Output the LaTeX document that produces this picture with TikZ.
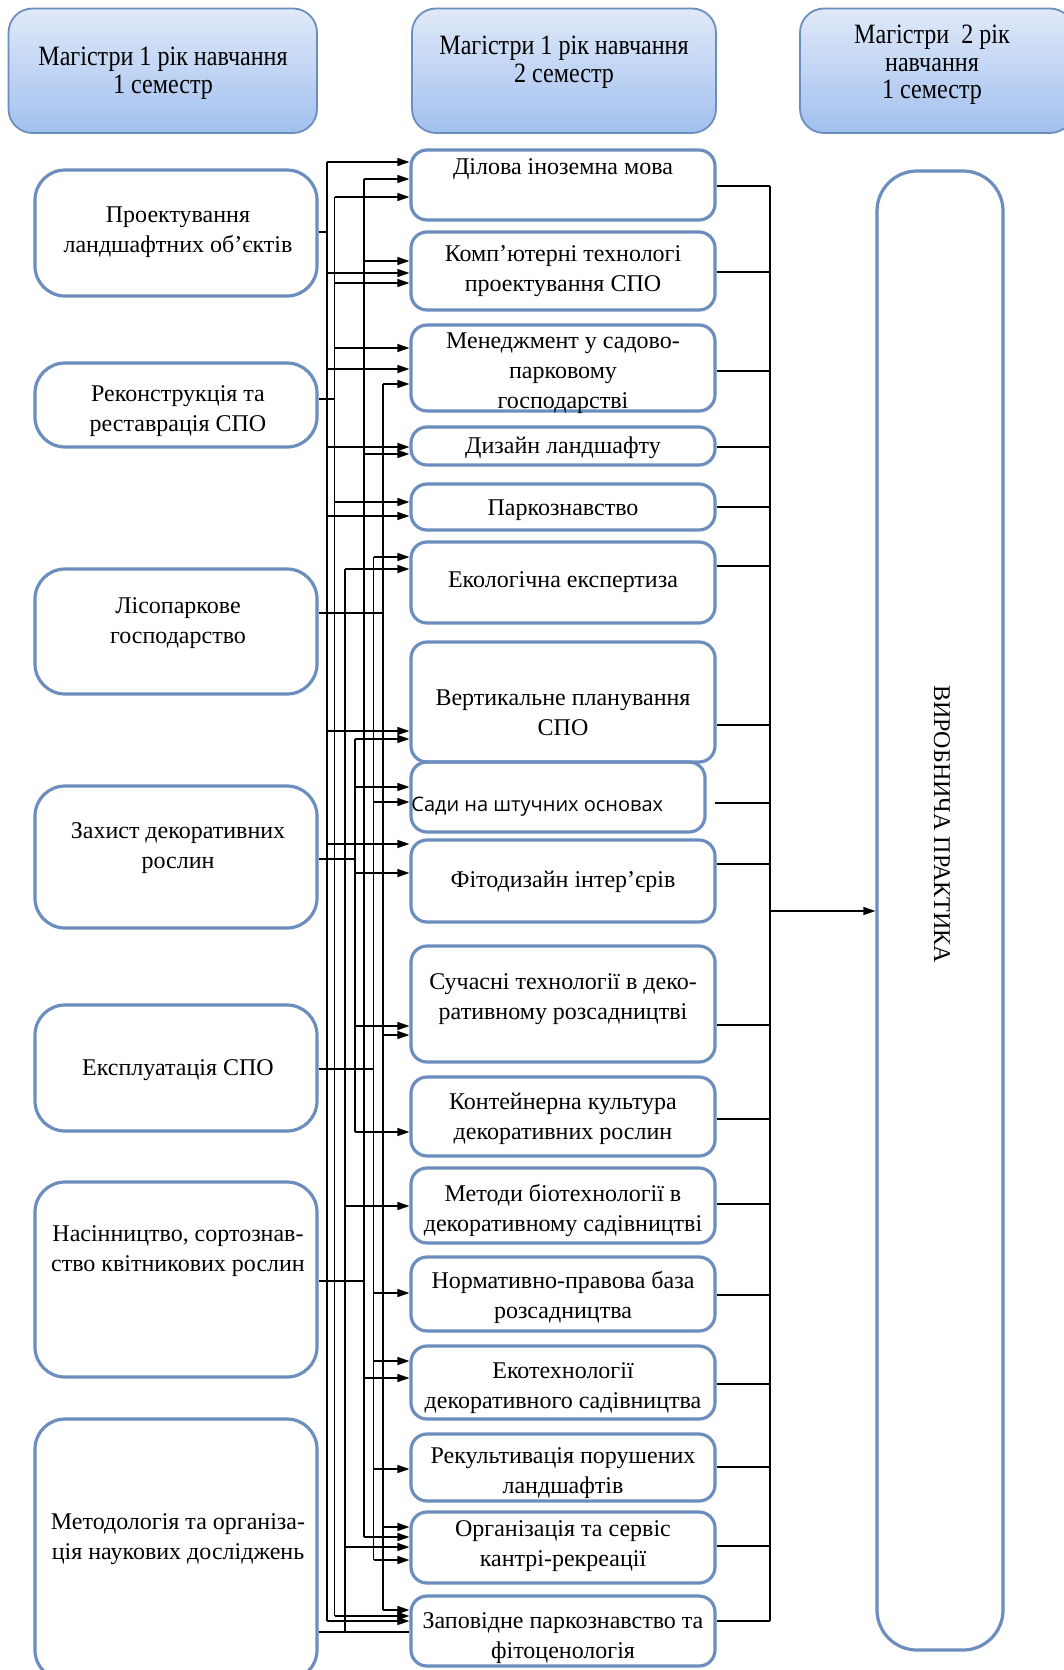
\documentclass[tikz,border=0pt]{standalone}
\usepackage{fontspec}
\setmainfont{Liberation Serif}
\newfontfamily\hdrfont[FakeStretch=0.86]{Liberation Serif}
\newfontfamily\sansfnt{Open Sans}
\usetikzlibrary{arrows.meta,fit}
\definecolor{bx}{RGB}{108,142,191}
\definecolor{hdtop}{RGB}{224,233,249}
\definecolor{hdbot}{RGB}{162,192,238}
\newcommand\feedto[3]{\draw[conn,tip] (#1 |- 0,#3) -- (#2.west |- 0,#3);}
\newcommand\outfrom[2]{\draw[conn] (#1.east |- 0,#2) -- (rb |- 0,#2);}
\begin{document}
\begin{tikzpicture}[x=0.5pt,y=-0.5pt,
  lbox/.style={draw=bx, line width=1.6pt, rounded corners=15pt, inner sep=0pt},
  mbox/.style={draw=bx, line width=1.6pt, rounded corners=8pt, inner sep=0pt},
  pbox/.style={draw=bx, line width=1.6pt, rounded corners=20pt, inner sep=0pt},
  hbox/.style={draw=bx, line width=0.9pt, rounded corners=12pt, inner sep=0pt, top color=hdtop, bottom color=hdbot},
  txt/.style={font=\fontsize{12pt}{15pt}\selectfont, align=center, inner sep=0pt, yshift=-1.5pt},
  htxt/.style={font=\hdrfont\fontsize{14pt}{13.8pt}\selectfont, align=center, inner sep=0pt, yshift=-1.5pt},
  conn/.style={line width=0.65pt, black},
  tip/.style={-{Triangle[length=6pt,width=4pt]}}
]
\useasboundingbox (0,0) rectangle (1064,1670);
\clip (0,0) rectangle (1064,1670);

% headers
\node[hbox, fit={(8.5,8.5) (317,133)}] (H1) {};
\node[hbox, fit={(412,8.5) (716,133)}] (H2) {};
\node[hbox, fit={(800,8.5) (1074,133)}] (H3) {};
\node[htxt] (H1t) at (163,70) {Магістри 1 рік навчання\\1 семестр};
\node[htxt] (H2t) at (564,59) {Магістри 1 рік навчання\\2 семестр};
\node[htxt] (H3t) at (932,62) {Магістри\ \ 2 рік\\навчання\\1 семестр};

% left column
\node[lbox, fit={(35,170) (317,296)}] (L1) {};
\node[lbox, fit={(35,363) (317,447)}] (L2) {};
\node[lbox, fit={(35,569) (317,694)}] (L3) {};
\node[lbox, fit={(35,786) (317,928)}] (L4) {};
\node[lbox, fit={(35,1005) (317,1131)}] (L5) {};
\node[lbox, fit={(35,1182) (317,1377)}] (L6) {};
\node[lbox, fit={(35,1419) (317,1680)}] (L7) {};
\node[txt] (L1t) at (178,229.5) {Проектування\\ландшафтних об’єктів};
\node[txt] (L2t) at (178,408.5) {Реконструкція та\\реставрація СПО};
\node[txt] (L3t) at (178,620) {Лісопаркове\\господарство};
\node[txt] (L4t) at (178,845) {Захист декоративних\\рослин};
\node[txt] (L5t) at (178,1067) {Експлуатація СПО};
\node[txt] (L6t) at (178,1248) {Насінництво, сортознав-\\ство квітникових рослин};
\node[txt] (L7t) at (178,1536) {Методологія та організа-\\ція наукових досліджень};

% middle column
\node[mbox, fit={(411,150) (715,220)}] (M1) {};
\node[mbox, fit={(411,232) (715,310)}] (M2) {};
\node[mbox, fit={(411,325) (715,411)}] (M3) {};
\node[mbox, fit={(411,427) (715,465)}] (M4) {};
\node[mbox, fit={(411,484) (715,530)}] (M5) {};
\node[mbox, fit={(411,542) (715,623)}] (M6) {};
\node[mbox, fit={(411,642) (715,762)}] (M7) {};
\node[mbox, fit={(411,762) (705,832)}] (M8) {};
\node[mbox, fit={(411,840) (715,922)}] (M9) {};
\node[mbox, fit={(411,946) (715,1062)}] (M10) {};
\node[mbox, fit={(411,1077) (715,1156)}] (M11) {};
\node[mbox, fit={(411,1168) (715,1243)}] (M12) {};
\node[mbox, fit={(411,1257) (715,1331)}] (M13) {};
\node[mbox, fit={(411,1346) (715,1419)}] (M14) {};
\node[mbox, fit={(411,1434) (715,1501)}] (M15) {};
\node[mbox, fit={(411,1512) (715,1583)}] (M16) {};
\node[mbox, fit={(411,1596) (715,1666)}] (M17) {};
\node[txt] (M1t) at (563,166) {Ділова іноземна мова};
\node[txt] (M2t) at (563,268) {Комп’ютерні технологі\\проектування СПО};
\node[txt] (M3t) at (563,370.5) {Менеджмент у садово-\\парковому\\господарстві};
\node[txt] (M4t) at (563,445) {Дизайн ландшафту};
\node[txt] (M5t) at (563,507) {Паркознавство};
\node[txt] (M6t) at (563,579) {Екологічна експертиза};
\node[txt] (M7t) at (563,709.5) {Вертикальне планування\\СПО};
\node[font=\sansfnt\fontsize{10pt}{12pt}\selectfont, inner sep=0pt, anchor=west] (M8t) at (411,807) {Сади на штучних основах};
\node[txt] (M9t) at (563,879) {Фітодизайн інтер’єрів};
\node[txt] (M10t) at (563,996) {Сучасні технології в деко-\\ративному розсадництві};
\node[txt] (M11t) at (563,1115.5) {Контейнерна культура\\декоративних рослин};
\node[txt] (M12t) at (563,1207) {Методи біотехнології в\\декоративному садівництві};
\node[txt] (M13t) at (563,1294.5) {Нормативно-правова база\\розсадництва};
\node[txt] (M14t) at (563,1385) {Екотехнології\\декоративного садівництва};
\node[txt] (M15t) at (563,1470.5) {Рекультивація порушених\\ландшафтів};
\node[txt] (M16t) at (563,1543.5) {Організація та сервіс\\кантрі-рекреації};
\node[txt] (M17t) at (563,1635.5) {Заповідне паркознавство та\\фітоценологія};

% practice box
\node[pbox, fit={(877,171) (1003,1650)}] (P) {};
\node[txt, rotate=-90, yshift=0pt] (Pt) at (942,821) {ВИРОБНИЧА ПРАКТИКА};

% bus coordinates
\coordinate (bA) at (327,0);
\coordinate (bB) at (334.5,0);
\coordinate (bC) at (345,0);
\coordinate (bE) at (355,0);
\coordinate (bD) at (364,0);
\coordinate (bF) at (373.5,0);
\coordinate (bG) at (383,0);
\coordinate (rb) at (770,0);

% bus A (from L1)
\draw[conn] (L1.east |- 0,232) -- (bA |- 0,232);
\draw[conn] (bA |- 0,162) -- (bA |- 0,1621);
\feedto{bA}{M1}{162}
\feedto{bA}{M2}{273}
\feedto{bA}{M3}{369}
\feedto{bA}{M4}{447}
\feedto{bA}{M5}{516}
\feedto{bA}{M7}{731}
\feedto{bA}{M9}{844}
\feedto{bA}{M17}{1621}

% bus B (from L2)
\draw[conn] (L2.east |- 0,399) -- (bB |- 0,399);
\draw[conn] (bB |- 0,197) -- (bB |- 0,1616);
\feedto{bB}{M1}{197}
\feedto{bB}{M2}{283}
\feedto{bB}{M3}{348}
\feedto{bB}{M5}{502}
\feedto{bB}{M17}{1616}

% bus C (from L7)
\draw[conn] (L7.east |- 0,1632) -- (M17.west |- 0,1632);
\draw[conn] (bC |- 0,569) -- (bC |- 0,1632);
\feedto{bC}{M6}{569}
\feedto{bC}{M12}{1206}
\feedto{bC}{M16}{1547}

% bus D (from L6)
\draw[conn] (L6.east |- 0,1281) -- (bD |- 0,1281);
\draw[conn] (bD |- 0,179) -- (bD |- 0,1537);
\feedto{bD}{M1}{179}
\feedto{bD}{M2}{261}
\feedto{bD}{M4}{454}
\feedto{bD}{M14}{1378}
\feedto{bD}{M16}{1537}

% bus E (from L4)
\draw[conn] (L4.east |- 0,859) -- (bE |- 0,859);
\draw[conn] (bE |- 0,739) -- (bE |- 0,1132);
\feedto{bE}{M7}{739}
\feedto{bE}{M8}{787}
\feedto{bE}{M9}{873}
\feedto{bE}{M10}{1026}
\feedto{bE}{M11}{1132}

% bus F (from L5)
\draw[conn] (L5.east |- 0,1069) -- (bF |- 0,1069);
\draw[conn] (bF |- 0,557) -- (bF |- 0,1560);
\feedto{bF}{M6}{557}
\feedto{bF}{M8}{802}
\feedto{bF}{M13}{1293}
\feedto{bF}{M14}{1361}
\feedto{bF}{M15}{1469}
\feedto{bF}{M16}{1560}

% bus G (from L3)
\draw[conn] (L3.east |- 0,613) -- (bG |- 0,613);
\draw[conn] (bG |- 0,384) -- (bG |- 0,1610);
\feedto{bG}{M3}{384}
\feedto{bG}{M10}{1035}
\feedto{bG}{M16}{1527}
\feedto{bG}{M17}{1610}

% right bus
\draw[conn] (rb |- 0,186) -- (rb |- 0,1621);
\outfrom{M1}{186}
\outfrom{M2}{272}
\outfrom{M3}{371}
\outfrom{M4}{447}
\outfrom{M5}{507}
\outfrom{M6}{566}
\outfrom{M7}{725}
\coordinate (m8out) at (715,803);
\draw[conn] (m8out) -- (rb |- m8out);
\outfrom{M9}{864}
\outfrom{M10}{1025}
\outfrom{M11}{1119}
\outfrom{M12}{1204}
\outfrom{M13}{1295}
\outfrom{M14}{1384}
\outfrom{M15}{1467}
\outfrom{M16}{1546}
\outfrom{M17}{1621}
\draw[conn,tip] (rb |- 0,911) -- (P.west |- 0,911);
\end{tikzpicture}
\end{document}
